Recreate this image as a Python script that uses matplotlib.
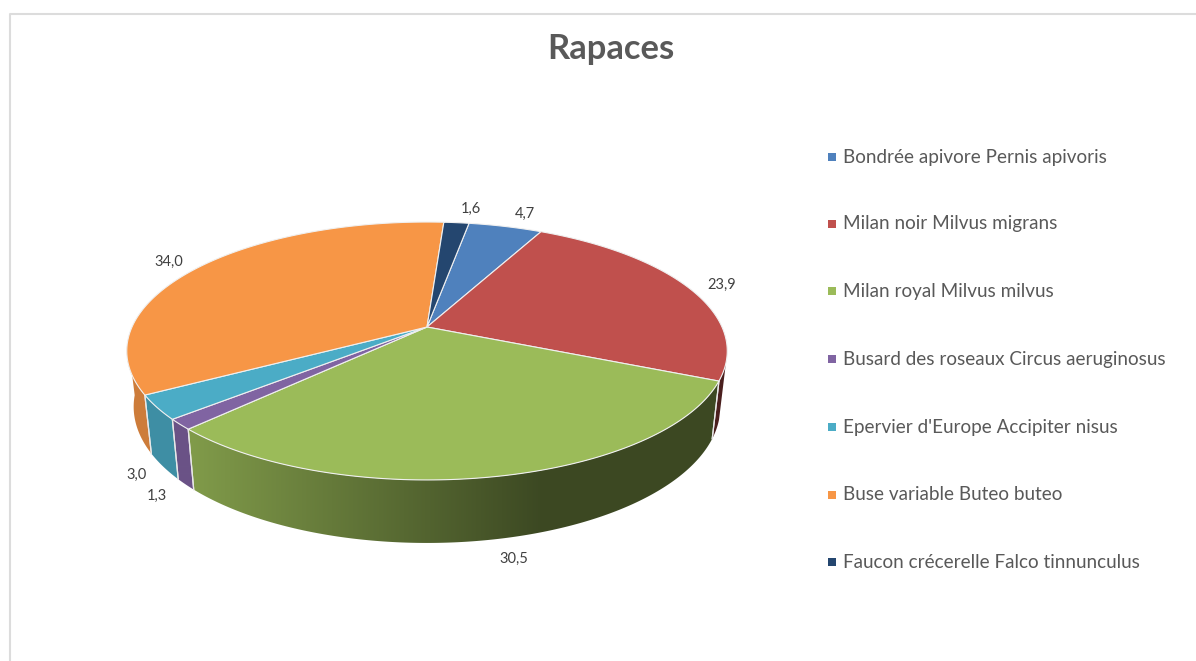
import matplotlib
matplotlib.use("Agg")
import matplotlib.pyplot as plt
from matplotlib.patches import Polygon
import numpy as np

# ========================== DATA ==========================
species = ["Bondrée apivore Pernis apivoris", "Milan noir Milvus migrans",
           "Milan royal Milvus milvus", "Busard des roseaux Circus aeruginosus",
           "Epervier d'Europe Accipiter nisus", "Buse variable Buteo buteo",
           "Faucon crécerelle Falco tinnunculus"]
values = [4.7, 23.9, 30.5, 1.3, 3.0, 34.0, 1.6]
colors = ["#4f81bd", "#c0504d", "#9bbb59", "#8064a2", "#4bacc6", "#f79646", "#24466f"]

# label positions in pixels, same order as values
label_pos = [(525, 214), (722, 285), (514, 559), (157, 496), (137, 475), (169, 262), (471, 209)]

# ========================== GEOMETRY ==========================
W, H = 1196, 661
cx, cy = 427, 327
A, B, k = 295, 124.5, 0.186
start_deg = 9.7
# part of the rim whose wall faces the viewer
front_lo, front_hi = np.radians(106), np.radians(264)


def top_xy(theta):
    # clockwise from 12 o'clock, with perspective on the disc
    u, v = np.sin(theta), np.cos(theta)
    w = 1 + k * v
    return cx + A * u / w, cy - B * v / w


def bottom_xy(theta):
    x, y = top_xy(theta)
    return cx + 0.977 * (x - cx), y + 54 - 9 * np.cos(theta)


def shade(x):
    return np.interp(x, [190, 540], [0.83, 0.39])


plt.rcParams["font.family"] = ["Lato", "DejaVu Sans"]

fig = plt.figure(figsize=(W / 100, H / 100), dpi=100)
ax = fig.add_axes([0, 0, 1, 1])
ax.axis("off")

# chart frame
ax.plot([10, 10, W], [H, 14, 14], color="#dcdcdc", lw=1.5)

edges = start_deg + np.concatenate([[0], np.cumsum(values)]) / sum(values) * 360
edges = np.radians(edges)

# outer wall: horizontal gradient clipped to each slice's rim
grad_x = np.arange(100, 760)
for i, c in enumerate(colors):
    lo, hi = max(edges[i], front_lo), min(edges[i + 1], front_hi)
    if lo >= hi:
        continue
    base = np.array(matplotlib.colors.to_rgb(c))
    ts = np.linspace(lo, hi, 200)
    xt, yt = top_xy(ts)
    xb, yb = bottom_xy(ts)
    wall = Polygon(np.c_[np.r_[xt, xb[::-1]], np.r_[yt, yb[::-1]]], closed=True,
                   transform=ax.transData, fc="none", ec="none")
    ax.add_patch(wall)
    strip = np.clip(base[None, None, :] * shade(grad_x)[None, :, None], 0, 1)
    im = ax.imshow(strip, extent=[100, 760, 600, 150], aspect="auto", zorder=2,
                   interpolation="bilinear")
    im.set_clip_path(wall)
    # light seam at the slice border
    for t in (edges[i], edges[i + 1]):
        if front_lo < t < front_hi:
            x0, y0 = top_xy(t)
            x1, y1 = bottom_xy(t)
            ax.plot([x0, x1], [y0, y1], color="#e8e8e8", lw=0.9, zorder=2.5)

# top faces
for i, c in enumerate(colors):
    ts = np.linspace(edges[i], edges[i + 1], 120)
    xs, ys = top_xy(ts)
    ax.fill(np.r_[cx, xs, cx], np.r_[cy, ys, cy], facecolor=c, edgecolor="#f0f0f0", lw=0.8,
            zorder=3, joinstyle="round")

# data labels
for val, (lx, ly) in zip(values, label_pos):
    ax.text(lx, ly, f"{val:.1f}".replace(".", ","), ha="center", va="center",
            fontsize=10.5, color="#404040", zorder=5)

# legend
legend_y = [157, 224, 291, 359, 427, 495, 562]
for name, c, ly in zip(species, colors, legend_y):
    ax.plot(832, ly, marker="s", ms=5.5, color=c, mew=0, ls="none")
    ax.text(843, ly, name, ha="left", va="center", fontsize=13.6, color="#595959")

ax.text(610.5, 49, "Rapaces", ha="center", va="center", fontsize=24.8, fontweight="bold", color="#595959")

ax.set_xlim(0, W)
ax.set_ylim(H, 0)
fig.savefig("out.png", dpi=100)
